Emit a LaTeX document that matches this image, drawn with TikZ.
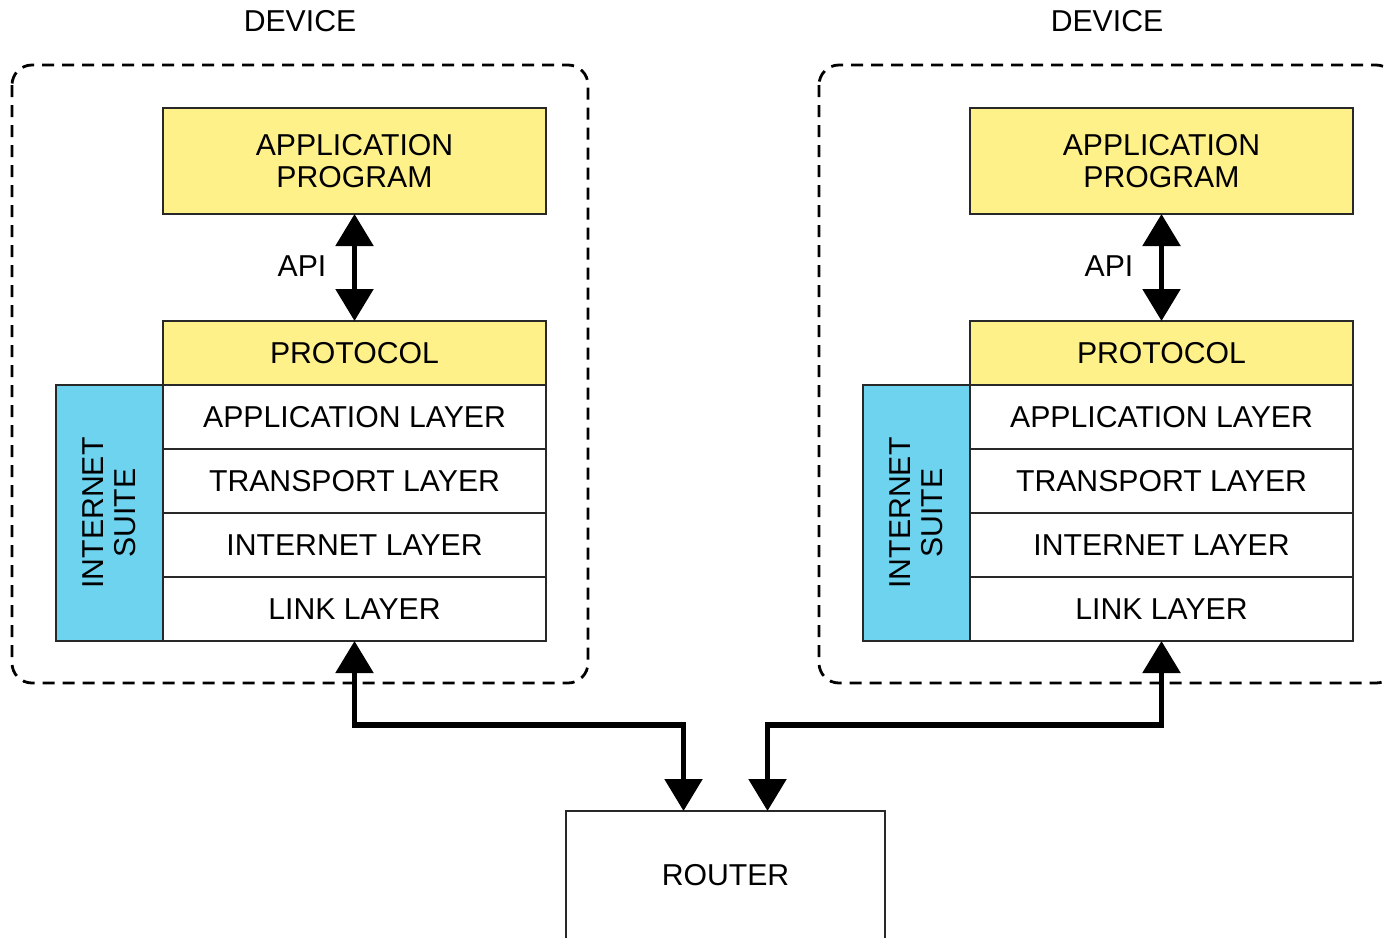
\documentclass[tikz,border=0pt]{standalone}
\usepackage{fontspec}
\setmainfont{Liberation Sans}
\usetikzlibrary{arrows.meta}
\definecolor{appyellow}{RGB}{255,241,138}
\definecolor{suiteblue}{RGB}{109,211,239}
\definecolor{boxline}{RGB}{40,40,40}
\begin{document}
\begin{tikzpicture}[x=1pt,y=-1pt,
  every node/.style={font=\fontsize{30.2}{32}\selectfont, inner sep=0pt, outer sep=0pt},
  box/.style={draw=boxline, line width=1.2pt, minimum width=383pt, align=center},
  ybox/.style={box, fill=appyellow},
  layerbox/.style={box, fill=white, minimum height=64pt},
  suite/.style={draw=boxline, line width=1.2pt, fill=suiteblue, minimum width=107pt, minimum height=256pt},
  devbox/.style={draw=black, line width=2.8pt, dash pattern=on 12pt off 8pt, rounded corners=20pt},
  tipbig/.tip={Triangle[width=37pt,length=32pt]},
  bigarrow/.style={line width=5.5pt, draw=black, tipbig-tipbig},
]
\clip (0,0) rectangle (1384,937);
\fill[white] (0,0) rectangle (1384,937);

% Left device
\draw[devbox] (12,65) rectangle (588,683);
\node (dlabel1) at (300,21) {DEVICE};
\node[ybox, minimum height=106pt] (app1) at (354.5,161) {APPLICATION\\PROGRAM};
\node[ybox, minimum height=64pt] (proto1) at (354.5,353) {PROTOCOL};
\node[layerbox] (al1) at (354.5,417) {APPLICATION LAYER};
\node[layerbox] (tl1) at (354.5,481) {TRANSPORT LAYER};
\node[layerbox] (il1) at (354.5,545) {INTERNET LAYER};
\node[layerbox] (ll1) at (354.5,609) {LINK LAYER};
\node[suite] (suite1) at (109.5,513) {};
\node[rotate=90, align=center] (suitetxt1) at (109.5,513) {INTERNET\\SUITE};
\draw[bigarrow] (app1.south) -- (proto1.north);
\node (api1) at (302,266) {API};

% Right device
\draw[devbox] (819,65) rectangle (1396,683);
\node (dlabel2) at (1107,21) {DEVICE};
\node[ybox, minimum height=106pt] (app2) at (1161.5,161) {APPLICATION\\PROGRAM};
\node[ybox, minimum height=64pt] (proto2) at (1161.5,353) {PROTOCOL};
\node[layerbox] (al2) at (1161.5,417) {APPLICATION LAYER};
\node[layerbox] (tl2) at (1161.5,481) {TRANSPORT LAYER};
\node[layerbox] (il2) at (1161.5,545) {INTERNET LAYER};
\node[layerbox] (ll2) at (1161.5,609) {LINK LAYER};
\node[suite] (suite2) at (916.5,513) {};
\node[rotate=90, align=center] (suitetxt2) at (916.5,513) {INTERNET\\SUITE};
\draw[bigarrow] (app2.south) -- (proto2.north);
\node (api2) at (1109,266) {API};

% Router
\node[draw=boxline, line width=1.2pt, fill=white, minimum width=319pt, minimum height=134pt] (router) at (725.5,878) {};
\node (routertxt) at (725.5,875) {ROUTER};
\coordinate (rin1) at ([xshift=-42pt]router.north);
\coordinate (rin2) at ([xshift=42pt]router.north);

\draw[bigarrow] (ll1.south) -- ++(0,84) -| (rin1);
\draw[bigarrow] (ll2.south) -- ++(0,84) -| (rin2);
\end{tikzpicture}
\end{document}
